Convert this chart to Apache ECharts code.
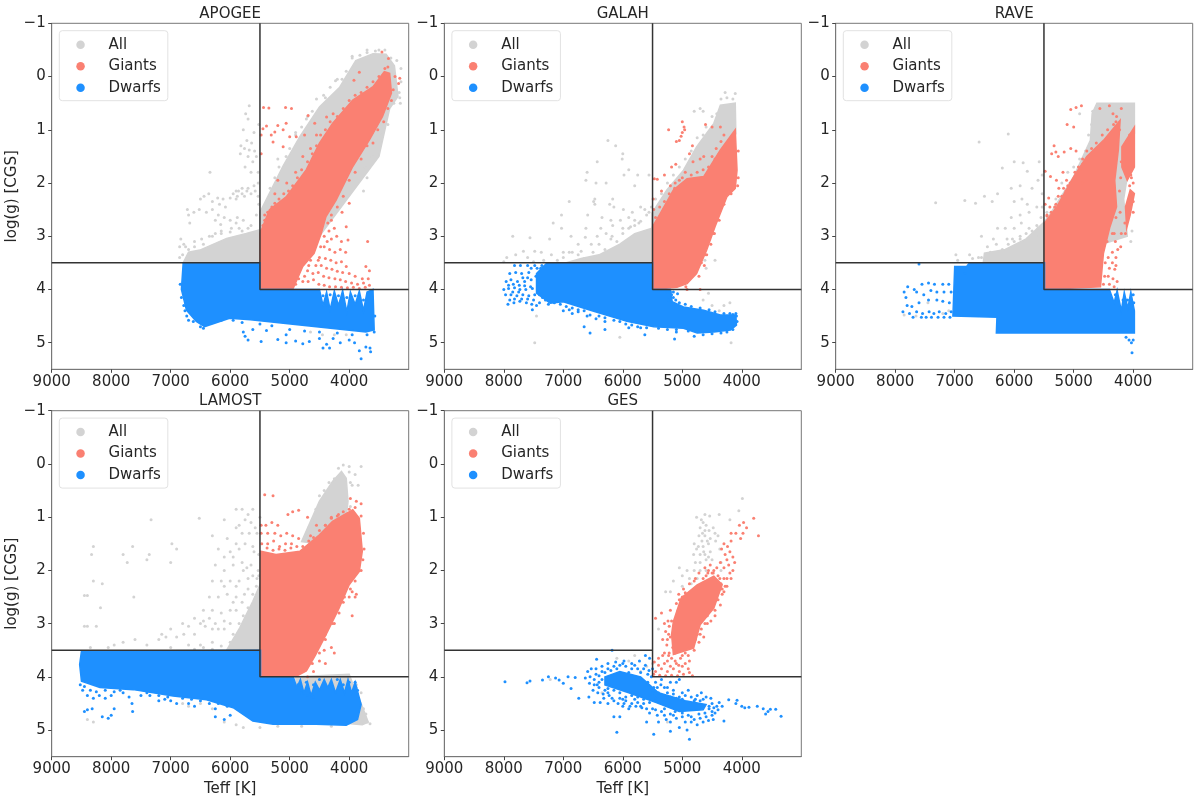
<!Doctype html>
<html>
    <head>
        <meta charset="utf-8">
        <style>
            html, body { margin: 0; background: #fff; }
            #chart { width: 1200px; height: 800px; filter: blur(0.4px); }
        </style>
    </head>
    <body>
        <div id="chart"></div>
        <script src="https://cdn.jsdelivr.net/npm/echarts@6/dist/echarts.min.js"></script>
        <script>
            // Axis ticks and the cuts between giants and dwarfs
            var xTicks = [9000, 8000, 7000, 6000, 5000, 4000];
            var yTicks = [-1, 0, 1, 2, 3, 4, 5];
            var cutLeft = [[9000, 3.5], [5500, 3.5]];
            var cutRight = [[5500, -1], [5500, 4], [3000, 4]];
            var groupNames = ['All', 'Giants', 'Dwarfs'];

            var apogeeAllCloud = [[6790,3.5],[6700,3.3],[6510,3.26],[6060,3.04],[5730,2.95],[5500,2.88],[5500,2.55],[5390,2.3],[5110,1.68],[4830,1.13],[4500,.57],[4160,.2],[3890,-.3],[3600,-.43],[3380,-.42],[3240,-.2],[3180,.37],[3320,.6],[3500,1.5],[4500,3],[5500,3.5]];
            var apogeeGiantCloud = [[5500,4],[5500,2.95],[5340,2.5],[5060,2.26],[4720,1.75],[4500,1.25],[4280,.88],[3940,.44],[3600,.19],[3410,-.09],[3320,-.06],[3290,.31],[3440,.75],[3660,1.19],[3940,1.69],[4220,2.32],[4390,2.63],[4470,2.95],[4590,3.32],[4780,3.57],[4950,4]];
            var apogeeDwarfCloud = [[6790,3.5],[5500,3.5],[5500,4],[4500,4],[4440,4.3],[4380,4.05],[4320,4.38],[4250,4.03],[4180,4.3],[4110,4.02],[4040,4.42],[3980,4.05],[3900,4.28],[3830,4.03],[3760,4.4],[3700,4.05],[3600,4],[3580,4.76],[3720,4.8],[4830,4.67],[5660,4.57],[6010,4.54],[6430,4.7],[6570,4.6],[6735,4.39],[6820,4]];
            var apogeeAllDots = [[5680,.55],[5740,.7],[5700,.8],[5520,.9],[5780,1],[5600,1.05],[5720,1.2],[5640,1.25],[5820,1.3],[5760,1.35],[5680,1.38],[5590,1.4],[5830,1.45],[5700,1.5],[5620,1.6],[5560,1.5],[5750,1.7],[5650,1.8],[5530,1.8],[6340,1.8],[5530,2],[5600,2.05],[5700,2.1],[5800,2.1],[5860,2.15],[5900,2.15],[5950,2.2],[5880,2.25],[5800,2.2],[5720,2.15],[5650,2.2],[5580,2.15],[5530,2.25],[5760,2.25],[5900,2.3],[6000,2.28],[6120,2.3],[6210,2.28],[6360,2.2],[6440,2.25],[6500,2.3],[6300,2.35],[6180,2.4],[6080,2.45],[6610,2.55],[6520,2.5],[6400,2.55],[6300,2.5],[6200,2.6],[6100,2.65],[6000,2.7],[5880,2.65],[5780,2.7],[6720,2.5],[6700,2.6],[6680,2.75],[6250,2.7],[6160,2.78],[5900,2.75],[6830,3.05],[6850,3.2],[6700,3.25],[6600,3.1],[6480,3.05],[6350,3],[6250,2.95],[6150,2.9],[5980,2.85],[5800,2.9],[5650,2.8],[5560,2.6],[5520,2.4],[3740,1.7],[3620,1.5],[3700,1.9],[3760,2.15],[3850,1.8],[3550,1.2],[3450,1.1],[3350,.9],[3250,.5],[3160,.3],[3140,.5],[4850,4.1],[4820,4.2],[5100,4.2],[4250,4.85],[4050,4.85],[4450,4.85],[4650,4.8],[3500,-.5],[3700,-.45],[3950,-.38],[4200,.05],[4400,.4],[4700,.75],[4900,1.1],[5200,1.55]];
            var apogeeAllFringe = [[5330,2.1],[5250,1.9],[5180,1.7],[5060,1.5],[5000,1.35],[4900,1.05],[4800,.95],[4720,.8],[4620,.65],[4550,.42],[4430,.35],[4320,.2],[4230,.08],[4120,.05],[4050,-.1],[3950,-.35],[3820,-.4],[3700,-.5],[3560,-.48],[3400,-.5],[3300,-.35],[3200,-.3],[3130,-.15],[3130,.1],[3150,.4],[6800,3.35],[6750,3.2],[6600,3.2],[6450,3.15],[6300,3],[6150,2.95],[6000,2.92],[5850,2.85],[5700,2.85],[6850,3.4],[6780,3.15]];
            var apogeeGiantDots = [[5440,.58],[5350,.59],[5070,.58],[4970,.6],[5480,1.1],[5450,.98],[5390,.93],[5310,1.1],[5250,1.04],[5200,.92],[5060,.88],[5110,1],[5280,1.23],[5110,1.32],[5000,1.13],[4890,1.13],[4750,1.1],[4690,.73],[4580,.88],[4380,.76],[4270,.7],[3230,0],[3150,.03],[3170,.13],[3340,-.34],[3450,-.46],[3920,.07],[3830,-.08],[5480,1.45],[5200,1.95],[5050,2],[4900,1.8],[4780,1.5],[4650,1.35],[4550,1.1],[5420,2.6],[5450,2.8],[5470,3.2],[5400,3],[5250,2.2],[4000,2.38],[4120,2.55],[4050,2.82],[4020,3.07],[3690,3.1],[4300,2.7],[4340,2.9],[4250,2.85],[4370,3.1],[4300,3.05],[4210,3],[4130,3.1],[4420,3.2],[4330,3.25],[4240,3.3],[4150,3.25],[4060,3.3],[4500,3.4],[4400,3.42],[4310,3.45],[4220,3.5],[4130,3.48],[4050,3.57],[3720,3.57],[3660,3.65],[4650,3.45],[4560,3.55],[4470,3.55],[4380,3.6],[4290,3.62],[4200,3.66],[4110,3.68],[4000,3.7],[3900,3.75],[3780,3.8],[3680,3.8],[4700,3.65],[4610,3.7],[4520,3.68],[4430,3.75],[4340,3.78],[4240,3.8],[4150,3.82],[4060,3.85],[3960,3.88],[3860,3.9],[3760,3.88],[3660,3.92],[4780,3.85],[4690,3.85],[4600,3.82],[4510,3.9],[4420,3.92],[4330,3.95],[4230,3.95],[4130,3.96],[4030,3.97],[3930,3.96],[3830,3.98],[3730,3.96]];
            var apogeeGiantFringe = [[5480,2.9],[5420,2.7],[5370,2.55],[5300,2.45],[5250,2.38],[5180,2.3],[5100,2.2],[5020,2.15],[4950,2.05],[4870,1.9],[4800,1.75],[4700,1.6],[4620,1.45],[4550,1.3],[4480,1.1],[4400,1],[4320,.85],[4200,.75],[4100,.6],[4000,.45],[3900,.35],[3800,.3],[3700,.2],[3600,.1],[3500,0],[3400,-.15],[3350,-.18],[3260,.25],[3290,.45],[3350,.6],[3420,.85],[3520,1],[3600,1.25],[3700,1.3],[3800,1.55],[3900,1.8],[4000,1.95],[4100,2.25],[4200,2.45],[4300,2.6],[4360,2.75],[4420,3],[4480,3.2],[4520,3.45],[4680,3.55],[4750,3.75],[4850,3.8],[4900,3.9]];
            var apogeeDwarfDots = [[5780,4.8],[5700,4.95],[5750,4.88],[5620,4.75],[5480,4.98],[5390,4.77],[5200,4.94],[5060,4.85],[5060,5],[4900,4.97],[4780,5.02],[4670,4.98],[4500,4.92],[4440,5.1],[4330,5.1],[4270,4.92],[4150,5],[3910,5],[3830,5.15],[3720,5.08],[3640,5.17],[3800,5.3],[3650,5.1],[6760,4.4],[6730,4.5],[6700,4.58],[6620,4.6],[6780,4.3],[4000,4.95],[4380,5.03],[6820,4.15],[6840,3.9],[6500,4.7],[6450,4.73],[6300,4.62],[6150,4.58],[5950,4.58],[5800,4.62],[5500,4.65],[5300,4.68],[5000,4.75],[4750,4.78],[4500,4.8],[4200,4.82],[3950,4.85],[3700,4.85],[3580,4.8],[3570,4.5],[4440,4.12],[4380,4.3],[4320,4.1],[4180,4.12],[4040,4.15],[3900,4.12],[3760,4.2],[4250,4.25]];

            var galahAllCloud = [[6950,3.5],[6700,3.42],[6400,3.35],[6050,3.15],[5800,2.95],[5510,2.85],[5510,2.57],[5260,2.13],[4980,1.76],[4760,1.32],[4470,.88],[4360,.54],[4110,.5],[4100,1.07],[4400,2],[5500,3.5]];
            var galahGiantCloud = [[5500,4],[5500,2.82],[5370,2.57],[5150,2.13],[4920,1.92],[4640,1.88],[4360,1.38],[4110,1],[4080,1.76],[4110,2.1],[4250,2.26],[4360,2.57],[4450,2.82],[4590,3.26],[4760,3.7],[4920,3.89],[5090,3.96]];
            var galahDwarfCloud = [[7280,3.51],[5500,3.5],[5500,4],[5200,4],[5170,4.23],[4980,4.33],[4640,4.39],[4360,4.48],[4100,4.48],[4090,4.67],[4190,4.76],[4470,4.8],[4750,4.82],[4980,4.73],[5480,4.7],[5930,4.6],[6490,4.41],[7000,4.23],[7220,4.26],[7450,4.07],[7450,3.7]];
            var galahAllDots = [[6250,1.2],[6120,1.3],[6000,1.45],[6430,1.6],[6600,1.8],[6620,1.95],[6450,2],[6280,2],[6010,1.55],[5900,1.75],[5980,1.85],[5750,1.85],[5560,1.85],[5800,2.05],[6170,2.3],[6220,2.4],[6150,2.45],[6470,2.3],[6900,2.35],[6490,2.35],[6470,2.4],[5990,2.5],[5840,2.55],[5700,2.45],[5630,2.5],[5560,2.55],[7030,2.6],[6590,2.6],[6350,2.65],[6200,2.7],[6040,2.7],[5900,2.65],[5800,2.7],[7170,2.75],[7030,2.85],[6620,2.85],[6370,2.85],[6170,2.8],[6000,2.85],[5870,2.82],[5730,2.75],[7850,3],[7560,3.03],[7230,3.05],[6870,3],[6630,3.02],[6430,3],[6280,2.95],[6180,3],[6750,3.15],[7670,3.28],[7480,3.28],[7370,3.3],[7200,3.35],[7000,3.3],[6850,3.3],[6700,3.28],[6530,3.15],[7950,3.4],[7800,3.35],[7600,3.4],[7330,3.45],[7100,3.45],[8000,3.48],[7500,3.48],[7480,5],[4180,5],[6050,4.9],[4380,4.4],[4500,4.3],[4300,4.3],[4200,4.25],[4560,4.07],[4650,4.2],[7450,4.5],[5100,3.9],[4620,3.45],[4450,3.45],[4600,3.6]];
            var galahAllFringe = [[7000,3.4],[6900,3.3],[6750,3.35],[6650,3.42],[6500,3.3],[6400,3.15],[6300,3.25],[6200,3.05],[6100,3.1],[6000,2.95],[5900,2.85],[5800,2.8],[5700,2.72],[5600,2.6],[5520,2.45],[5450,2.3],[5350,2.2],[5250,2],[5150,1.85],[5050,1.7],[4950,1.55],[4850,1.4],[4750,1.15],[4650,1.1],[4600,.95],[4500,.75],[4420,.7],[4350,.42],[4250,.4],[4150,.42],[4280,.3],[4110,.32],[4700,.6],[4800,.65],[4650,.65]];
            var galahGiantDots = [[5000,.85],[4970,.95],[4960,1],[5000,1.05],[5020,1.12],[5050,1.2],[5100,1.22],[4610,.9],[4500,.95],[4360,.95],[5230,1],[5110,1.65],[5180,1.7],[5300,1.85],[5470,1.92],[5420,1.93],[5490,2.3],[5480,2.5],[5350,2.15],[5200,2.05],[5120,2],[5000,1.9],[4880,1.45],[4830,1.3],[4820,1.6],[4700,1.55],[4640,1.5],[4500,1.5],[4430,1.35],[4350,1.22],[4300,1.1],[4520,3.15],[4590,3.35],[4480,2.95],[4630,3.55],[4940,3.95],[4700,4],[4920,4]];
            var galahGiantFringe = [[5450,2.65],[5380,2.45],[5300,2.35],[5220,2.2],[5130,2.1],[5050,1.95],[4950,1.8],[4850,1.85],[4750,1.8],[4650,1.75],[4560,1.7],[4450,1.55],[4380,1.45],[4280,1.3],[4200,1.2],[4060,1.4],[4060,1.9],[4070,2.05],[4180,2.2],[4300,2.4],[4380,2.7],[4460,2.95],[4540,3.05],[4620,3.35],[4680,3.5],[4720,3.75]];
            var galahDwarfDots = [[7820,3.55],[7720,3.55],[7600,3.55],[7480,3.55],[7380,3.6],[7250,3.56],[7900,3.7],[7800,3.68],[7700,3.7],[7580,3.68],[7460,3.75],[7960,3.85],[7880,3.82],[7770,3.85],[7650,3.85],[7540,3.82],[8000,4],[7920,3.98],[7820,3.97],[7730,4],[7630,4],[7520,3.98],[7970,4.1],[7880,4.1],[7780,4.12],[7680,4.1],[7580,4.12],[7480,4.1],[7930,4.28],[7830,4.25],[7730,4.22],[7620,4.25],[7530,4.28],[7450,4.3],[7400,4.25],[7520,4.38],[7000,4.4],[6900,4.38],[6750,4.42],[6850,4.45],[6600,4.5],[6450,4.55],[6300,4.6],[6650,4.7],[6550,4.82],[6300,4.75],[5630,4.85],[5130,4.93],[5100,4.8],[5200,4.05],[5080,4.08],[5110,4.2],[5230,4.2],[5750,4.7],[5900,4.72],[4100,4.45],[4150,4.47]];
            var galahDwarfFringe = [[7440,3.6],[7420,3.9],[7400,4.1],[7350,4.15],[7300,4.2],[7250,4.28],[7150,4.25],[7050,4.28],[6950,4.32],[6850,4.35],[6750,4.38],[6650,4.4],[6550,4.48],[6400,4.5],[6300,4.53],[6150,4.58],[6050,4.6],[5950,4.65],[5850,4.67],[5700,4.72],[5600,4.72],[5400,4.73],[5250,4.75],[5100,4.75],[4900,4.78],[4800,4.88],[4650,4.85],[4500,4.83],[4350,4.82],[4250,4.8],[4150,4.75],[4080,4.6],[4090,4.5],[4200,4.45],[4300,4.45],[4450,4.42],[4550,4.38],[4700,4.35],[4850,4.32],[4950,4.28],[5050,4.25],[5150,4.15],[5250,4.05],[5150,4.05],[5180,4.1],[7920,3.92],[7840,3.9],[7740,3.92],[7680,3.78],[7600,3.78],[7540,3.6],[7360,3.55],[7160,3.55],[7050,3.55],[6950,3.55],[6800,3.52],[6650,3.52],[7900,4.2],[7820,4.18],[7700,4.18],[7600,4.18],[7500,4.2],[7850,4.05],[7750,4.05],[7650,3.93],[7550,3.95]];

            var raveAllCloud = [[6520,3.5],[6500,3.32],[6150,3.25],[5800,3.05],[5510,2.75],[5390,2.57],[5000,1.88],[4720,1.2],[4690,.7],[4610,.5],[3980,.5],[3980,1.07],[4160,2.3],[4100,3],[5500,3.5]];
            var raveGiantCloud = [[5490,4],[5490,2.75],[5280,2.44],[5000,1.88],[4780,1.5],[4500,1.2],[4220,.82],[4250,1.38],[4310,1.95],[4280,2.45],[4390,2.82],[4500,3.32],[4550,3.95]];
            var raveGiantStreakTop = [[3980,.95],[3980,1.7],[4100,1.95],[4190,1.7],[4190,1.32]];
            var raveGiantStreakLow = [[4050,2.13],[3980,2.2],[4050,2.6],[4110,2.85],[4130,2.45]];
            var raveDwarfCloud = [[5490,3.5],[6750,3.5],[6800,3.57],[7000,3.57],[7030,4.5],[6290,4.52],[6300,4.82],[3980,4.82],[3980,4.4],[4040,4.05],[4090,4.35],[4150,4.05],[4200,4.4],[4270,4.02],[4320,4.25],[4400,4],[5490,4]];
            var raveAllDots = [[6100,1.08],[6590,1.23],[7320,2.37],[6830,2.33],[6650,2.38],[6500,2.25],[6370,2.35],[6280,2.2],[6200,1.72],[6000,1.6],[5850,1.62],[5580,1.6],[5780,1.78],[5530,1.85],[6050,2.1],[5900,2.05],[5700,2.1],[5600,1.95],[5530,2.2],[6000,2.35],[5870,2.3],[5780,2.4],[5530,2.45],[6050,2.65],[5900,2.6],[5750,2.55],[5620,2.45],[6280,2.85],[6150,2.85],[6000,2.85],[5880,2.75],[5750,2.85],[5620,2.8],[5550,2.65],[6550,3],[6350,3.05],[6120,3.05],[6030,3.05],[5900,3.05],[6980,3.35],[6950,3.45],[6750,3.35],[6700,3.42],[6600,3.4],[7450,4.25],[7200,4.45],[7100,4.4],[7850,4.48],[7650,4.5],[4020,2.9],[4040,3.1],[5580,3],[5520,3.2]];
            var raveAllFringe = [[5450,2.55],[5300,2.3],[5200,2],[5100,1.8],[5000,1.7],[4900,1.55],[4800,1.4],[4750,1.1],[4700,.9],[4680,.65],[4900,.7],[6450,3.2],[6300,3.15],[6200,3.25],[6100,3.15],[6000,3.1],[5900,3],[5800,2.95],[5700,2.9],[5600,2.85],[6400,3.3],[6550,3.4]];
            var raveGiantDots = [[4870,.55],[4960,.58],[5050,.62],[4400,.55],[4560,.6],[4200,.6],[4340,.7],[4280,.75],[5110,.9],[5000,.95],[5330,1.3],[5300,1.42],[5260,1.5],[5370,1.45],[5160,1.42],[5050,1.35],[4960,1.4],[5480,1.78],[5390,1.88],[5290,1.95],[5180,1.8],[5120,1.95],[5100,2.05],[5170,2.1],[5250,2.1],[5420,2.28],[5480,2.4],[5400,2.45],[5300,2.4],[5450,2.62],[4900,1.75],[4850,2],[4850,1.65],[4320,2.95],[4300,3.1],[4260,3.25],[4210,3.2],[4350,3.3],[4290,3.4],[4420,3.4],[4350,3.5],[4290,3.55],[4400,3.6],[4310,3.62],[4420,3.75],[4340,3.8],[4270,3.85],[4400,3.9],[4320,3.95],[4200,2.95],[4130,2.95],[4140,2.75],[4030,1.9],[4060,2.05]];
            var raveGiantFringe = [[5450,2.6],[5380,2.55],[5320,2.45],[5260,2.25],[5200,2.25],[5130,2.15],[5060,2],[4980,1.8],[4920,1.7],[4850,1.55],[4780,1.4],[4700,1.35],[4620,1.25],[4520,1.1],[4430,1],[4330,.9],[4290,.85],[4230,1],[4200,1.6],[4210,1.9],[4230,2.15],[4220,2.55],[4290,2.65],[4350,2.95],[4440,3.1],[4470,3.5],[4480,3.75],[4500,3.9],[4100,1.2],[4060,1.1],[4110,1.7],[4040,1.85],[4000,2],[4020,2.25],[4000,2.35],[4000,2.55]];
            var raveDwarfDots = [[7600,3.52],[6830,3.7],[7850,4.05],[7790,3.95],[7820,4.15],[7680,4],[7550,3.9],[7440,3.88],[7340,3.9],[7200,3.9],[7100,3.9],[7640,4.05],[7520,4.1],[7400,4.02],[7300,4.05],[7180,4.05],[7060,4.05],[7440,4.2],[7300,4.2],[7200,4.22],[7090,4.25],[7800,4.3],[7720,4.32],[7600,4.25],[7870,4.42],[7760,4.45],[7640,4.42],[7540,4.45],[7430,4.42],[7350,4.45],[7260,4.42],[7150,4.45],[7060,4.42],[7700,4.52],[7560,4.52],[7480,4.52],[7390,4.52],[7280,4.52],[7180,4.52],[7080,4.52],[4020,5.19],[4030,5],[4070,4.95],[4120,4.9],[4000,4.95],[4100,4.2],[4170,4.2],[4300,4.1],[4000,4.1],[3990,4.25],[4060,4.2]];

            var lamostAllCloud = [[6060,3.5],[5840,3.08],[5620,2.58],[5500,2.27],[5490,3.5]];
            var lamostAllArm = [[4800,1.46],[4500,.7],[4280,.33],[4130,.14],[4050,.27],[4020,.7],[4060,1.1],[4500,1.5]];
            var lamostAllLower = [[4900,4],[4000,3.95],[3950,4.1],[3800,4.5],[3680,4.85],[3780,4.9],[4800,4.8]];
            var lamostGiantCloud = [[5490,3.99],[5490,1.64],[5230,1.7],[4830,1.64],[4500,1.33],[4280,1.08],[3940,.86],[3830,1.02],[3780,1.64],[3830,2.02],[4000,2.27],[4170,2.71],[4360,3.14],[4560,3.58],[4720,3.89],[4890,3.99]];
            var lamostDwarfCloud = [[8500,3.52],[5490,3.5],[5490,4],[4940,4],[4880,4.2],[4820,4.05],[4760,4.3],[4700,4.1],[4640,4.35],[4570,4.1],[4500,4.25],[4420,4.05],[4360,4.2],[4300,4.05],[4230,4.3],[4150,4.05],[4080,4.3],[4020,4.05],[3960,4.3],[3900,4.1],[3800,4.52],[3860,4.8],[4050,4.91],[4560,4.89],[5280,4.89],[5620,4.83],[5950,4.58],[6400,4.43],[6960,4.36],[7630,4.24],[8190,4.2],[8500,4.08],[8530,3.77]];
            var lamostAllDots = [[7330,1.05],[6520,1.02],[7640,1.55],[7800,1.7],[7730,1.85],[7400,1.8],[7360,1.7],[7000,1.85],[8300,1.55],[8330,1.7],[6980,1.5],[6900,1.6],[6300,1.35],[6100,1.05],[5900,.85],[5800,.85],[5620,.85],[5700,.95],[5500,1],[5900,1.2],[6050,1.4],[5800,1.3],[5650,1.1],[5550,1.3],[6200,1.6],[6000,1.65],[5850,1.6],[5750,1.5],[5620,1.55],[5520,1.7],[6250,1.9],[6100,2],[5950,1.9],[5800,1.85],[5650,1.9],[5530,2],[6300,2.2],[6150,2.2],[6000,2.2],[5850,2.2],[5700,2.15],[6350,2.5],[6200,2.5],[6050,2.45],[5900,2.5],[5760,2.45],[6450,2.75],[6300,2.75],[6150,2.8],[6000,2.75],[5900,2.75],[7620,2.5],[8400,2.47],[8450,2.47],[8300,2.2],[8150,2.25],[8180,2.7],[8250,3.05],[8450,3.05],[8400,3.05],[6900,3.25],[6780,3.2],[6600,3.2],[6500,3],[6420,3.05],[6300,3.1],[6200,3.1],[6100,3.1],[7200,3.3],[7150,3.2],[7080,3.25],[7600,3.3],[7800,3.35],[7950,3.4],[8050,3.45],[8350,3.45],[6700,3.4],[6500,3.4],[6300,3.35],[7400,3.4],[7000,3.45],[3800,.05],[4000,.05],[3900,.2],[3850,.4],[3950,.4],[3980,.8],[3700,4.85],[3650,4.88],[3720,4.7],[3760,4.6],[3800,4.3],[3880,4.15],[8400,4.8],[8300,4.85],[6800,4.5],[6700,4.55],[6500,4.5],[6300,4.6],[6100,4.85],[5900,4.9],[5780,4.95],[5500,4.95],[5200,4.93],[4800,4.93],[4300,4.93],[4750,4.4],[4650,4.45],[4500,4.4],[3880,4.2]];
            var lamostAllFringe = [[6000,3.35],[6150,3.42],[5950,3.2],[5850,3],[5780,2.85],[5700,2.7],[5620,2.45],[5560,2.3],[5520,2.1],[6300,3.48],[6450,3.45],[6600,3.48],[4680,1.2],[4620,1.05],[4560,.85],[4500,.6],[4420,.5],[4340,.35],[4250,.28],[4180,.08],[4100,.02],[4000,.15],[3980,.35],[7000,3.1],[6800,3],[6700,3.05],[6600,2.9],[6450,2.95],[6350,2.9],[6250,3],[6100,2.95],[6000,3],[5950,2.6],[6100,2.3],[5900,2.3],[5780,2],[5950,1.75],[6100,1.75],[5900,1.5],[5680,1.3],[5850,1.15],[5750,1.05],[5580,1.2],[5600,1.65],[5720,1.95],[5620,2.1],[5550,2.15],[5800,2.6],[5700,2.35]];
            var lamostGiantDots = [[5420,.58],[5280,.6],[5030,.95],[4950,.9],[4850,.87],[4700,1],[5480,1.15],[5400,1.15],[5300,1.1],[5200,1.15],[5480,1.3],[5370,1.3],[5250,1.3],[5150,1.35],[5050,1.3],[4950,1.35],[4850,1.4],[5470,1.5],[5370,1.5],[5270,1.45],[5170,1.55],[5070,1.5],[4970,1.5],[4650,1.35],[4550,1.15],[4400,1.15],[4300,1],[4180,.95],[4100,1],[3980,.65],[3880,.7],[3800,.75],[5450,1.8],[5400,1.95],[5450,2.05],[5400,2.2],[5350,2.15],[5450,2.35],[5400,2.5],[5350,2.35],[3950,2.4],[3880,2.45],[3900,2.5],[4000,2.5],[3950,2.85],[4100,2.6],[4250,3],[4400,3.2],[4300,3.45],[4250,3.55],[4420,3.5],[4500,3.7],[4600,3.9],[4700,4],[4400,3.75]];
            var lamostGiantFringe = [[5380,1.58],[5280,1.62],[5180,1.6],[5080,1.62],[4980,1.58],[4880,1.55],[4780,1.55],[4680,1.45],[4600,1.38],[4500,1.25],[4400,1.15],[4300,1.02],[4200,.98],[4100,.9],[4000,.85],[3900,.82],[3800,.98],[3760,1.3],[3750,1.6],[3770,1.8],[3800,2],[3900,2.2],[3980,2.35],[4080,2.5],[4170,2.8],[4280,3],[4400,3.3],[4500,3.55],[4620,3.75]];
            var lamostDwarfDots = [[8480,4.25],[8400,4.35],[8300,4.4],[8200,4.35],[8100,4.4],[8000,4.35],[8450,4.65],[8400,4.62],[8320,4.6],[8000,4.72],[8050,4.78],[8150,4.75],[7950,4.6],[7650,4.5],[7640,4.65],[7800,4.3],[7700,4.38],[7500,4.35],[7350,4.35],[7200,4.45],[7100,4.42],[7000,4.45],[6900,4.5],[6700,4.5],[6600,4.55],[6350,4.5],[6250,4.6],[6250,4.75],[6100,4.8],[6000,4.72],[4800,4.3],[4700,4.35],[4600,4.38],[4860,4.15],[4720,4.1],[4600,4.15],[4500,4.05],[4200,4.05],[4100,4.15],[4000,4.1],[3900,4.1],[3860,4.25],[8520,4.15],[8450,4.18],[8350,4.25],[8250,4.28],[8100,4.25],[7950,4.28],[7850,4.25],[7400,4.3],[7200,4.35],[7050,4.38],[6800,4.4],[6650,4.42],[6500,4.45],[6200,4.5],[6050,4.55]];

            var gesGiantCloud = [[5020,2.52],[4750,2.27],[4470,2.11],[4330,2.27],[4470,2.71],[4700,3.02],[4810,3.46],[5150,3.58],[5180,3.2],[5150,2.96]];
            var gesDwarfCloud = [[6300,4],[6050,3.9],[5700,4],[5400,4.3],[4950,4.45],[4600,4.52],[4650,4.62],[5050,4.65],[5450,4.48],[5900,4.3],[6300,4.15]];
            var gesAllDots = [[3990,.65],[4050,.88],[4620,.95],[4760,1],[4540,.98],[4380,.95],[4200,1.05],[4650,1.1],[4700,1.2],[4620,1.25],[4550,1.25],[4480,1.2],[4450,1.3],[4620,1.35],[4720,1.35],[4530,1.4],[4400,1.35],[4670,1.45],[4800,1.5],[4760,1.6],[4650,1.55],[4560,1.5],[4440,1.45],[4810,1.7],[4700,1.7],[4620,1.7],[4530,1.65],[4370,1.6],[4780,1.85],[4700,1.85],[4600,1.8],[4500,1.8],[4350,1.85],[5050,1.95],[4920,2],[4800,2],[4700,2],[4600,2],[4350,2],[5000,2.1],[4880,2.15],[4750,2.15],[5150,2.2],[5000,2.3],[4850,2.25],[5200,2.4],[5280,2.4],[5400,3.1],[5500,3.75],[5700,3.9],[5800,3.6],[5900,3.7],[6100,3.65],[6350,4.3],[7220,4.05],[5250,4.85],[5350,4.5],[5600,3.8],[4680,1.05],[4600,1.15],[4660,1.3],[4580,1.45],[4730,1.55],[4640,1.65],[4560,1.75]];
            var gesGiantDots = [[3800,1.02],[3970,1.1],[4040,1.15],[3920,1.2],[3980,1.3],[4100,1.3],[4180,1.3],[3720,1.35],[4020,1.4],[4180,1.45],[4300,1.5],[4240,1.55],[4340,1.6],[4200,1.65],[4280,1.7],[4150,1.75],[4250,1.8],[4360,1.85],[4220,1.9],[4300,1.95],[4150,2],[4420,1.95],[4530,1.9],[4620,1.95],[4470,2],[4720,2.05],[4570,2.05],[4400,2.1],[4300,2.15],[4180,2.15],[4650,2.15],[4800,2.2],[4250,2.3],[4330,2.45],[4400,2.55],[5000,2.5],[5050,2.55],[4950,2.42],[5070,2.75],[5200,2.75],[5350,2.8],[5450,2.9],[5300,3],[5240,2.95],[5280,3.15],[5330,3.3],[5260,3.4],[5220,3.55],[5400,3.65],[5250,3.7],[5120,3.7],[5030,3.65],[4950,3.55],[4800,3.5],[4750,3.2],[4680,3.1],[4580,2.85],[4520,2.95],[5400,3.78],[5470,3.72],[5450,3.9],[5350,3.85],[5250,3.9],[5150,3.85],[5050,3.9],[4950,3.75],[4880,3.92],[5480,3.95],[5380,3.97],[5280,3.98],[5180,3.97],[5080,3.98],[4980,3.95],[4830,3.98],[5050,3.45],[5100,3.2],[4920,3.3],[4850,2.95],[4700,2.9],[4600,2.6],[5180,2.95],[5220,3.05],[5200,3.25],[5160,3.45],[5300,3.55],[5180,3.65],[5060,3.78],[4880,3.7],[5100,2.62],[5060,2.45],[4980,2.35],[4880,2.25],[4780,2.15],[4600,2.1],[4500,2.05],[4370,2.15],[4280,2.3],[4330,2.35],[4360,2.65],[4450,2.85],[4580,3],[4640,3.25],[4720,3.35]];
            var gesGiantExtra = [[5000,3.6],[4900,3.6],[4880,3.45],[5230,3.6],[5120,3.55],[5330,3.6],[5200,3.8],[5100,3.75],[5000,3.8],[4900,3.85],[5300,3.75],[5150,3.3],[5230,3.2],[5250,3.3],[4780,3.3],[4700,3.2],[4620,3],[4550,2.75],[4450,2.75],[4400,2.4],[4300,2.4],[4250,2.15],[4350,2.25],[4200,2.05],[4120,1.85],[4480,2.05],[4560,2]];
            var gesDwarfDots = [[7980,4.09],[7610,4.11],[7560,4.08],[7350,4.06],[7250,4],[7130,4.02],[7070,4.06],[7000,4.12],[6920,4],[6800,4.01],[6870,4.22],[6740,4.4],[6630,4.02],[6590,3.9],[6570,4.38],[6480,4.48],[6180,3.5],[6440,3.67],[6530,3.85],[6450,3.85],[6350,3.8],[6250,3.75],[6120,3.72],[5980,3.7],[5850,3.75],[5720,3.7],[5620,3.6],[5550,3.65],[6560,4.12],[6480,4.05],[6400,4.1],[6300,4.25],[6500,4.25],[6420,4.3],[6320,4.4],[6230,4.35],[6150,4.45],[6050,4.4],[5950,4.45],[5850,4.5],[5750,4.48],[6380,4.48],[6250,4.5],[6000,4.55],[6150,4.75],[6050,4.75],[5500,3.85],[5450,4.1],[5350,4.05],[5200,4.1],[5100,4.1],[5050,4.05],[5250,4.2],[5150,4.25],[5000,4.3],[4900,4.25],[4750,4.35],[4680,4.3],[4600,4.38],[4520,4.4],[4470,4.58],[4330,4.55],[4220,4.43],[4080,4.44],[4000,4.55],[3880,4.57],[3740,4.55],[3600,4.7],[3520,4.61],[3430,4.61],[3340,4.74],[3640,4.6],[3560,4.65],[3950,4.58],[4100,4.5],[4300,4.83],[4500,4.72],[4480,4.8],[4600,4.75],[4650,4.85],[4750,4.9],[4850,4.85],[4950,4.85],[5050,4.95],[5200,4.85],[5270,4.8],[5000,4.75],[5150,4.72],[5420,4.72],[5400,4.85],[6100,5.04],[5480,5.08],[5200,5.02],[4880,5.17],[4920,5],[5600,4.85],[5700,4.55],[5600,4.6],[5900,4.6],[6350,3.9],[6250,3.85],[6150,3.8],[6050,3.78],[5950,3.8],[5850,3.85],[5750,3.85],[5650,3.85],[5580,3.95],[5520,4],[5580,4.1],[5480,4.2],[5400,4.3],[5300,4.35],[5200,4.38],[5100,4.4],[5000,4.42],[4800,4.45],[4700,4.45],[4550,4.6],[4620,4.68],[4720,4.7],[4850,4.75],[5120,4.65],[5300,4.6],[5500,4.6],[5650,4.5],[5800,4.42],[6000,4.42],[6250,4.22],[6400,4.2],[6550,4],[6450,3.95],[5550,4.35],[5450,4.4]];
            var gesDwarfExtra = [[6480,4.15],[6400,3.98],[6300,3.92],[6200,3.88],[6100,3.85],[6000,3.75],[5900,3.92],[5800,3.78],[5700,3.92],[5620,3.78],[5560,3.88],[6430,4.15],[6350,4.05],[6250,4.3],[6150,4.25],[6050,4.3],[5950,4.38],[5850,4.35],[5750,4.38],[5650,4.42],[5550,4.48],[6330,4.32],[6180,4.4],[6080,4.5],[5980,4.5],[5880,4.55],[5780,4.55],[5680,4.58],[5500,4.3],[5420,4.2],[5300,4.2],[5360,4.15],[5250,4.3],[5150,4.32],[5050,4.38],[4950,4.35],[4850,4.38],[4780,4.42],[4650,4.42],[4500,4.5],[4420,4.55],[4380,4.48],[4550,4.55],[4500,4.65],[4450,4.68],[4400,4.62],[4560,4.82],[4700,4.78],[4800,4.8],[4900,4.72],[5000,4.68],[5100,4.78],[5200,4.7],[5300,4.72],[5350,4.65],[5450,4.62],[5550,4.68]];

            // Panels: where each sits and what it holds
            var panels = [
                {title: 'APOGEE', left: 51.7, top: 23.3, yName: true, clouds: [[0, apogeeAllCloud], [1, apogeeGiantCloud], [2, apogeeDwarfCloud]], dots: [apogeeAllDots.concat(apogeeAllFringe), apogeeGiantDots.concat(apogeeGiantFringe), apogeeDwarfDots]},
                {title: 'GALAH', left: 444.3, top: 23.3, clouds: [[0, galahAllCloud], [1, galahGiantCloud], [2, galahDwarfCloud]], dots: [galahAllDots.concat(galahAllFringe), galahGiantDots.concat(galahGiantFringe), galahDwarfDots.concat(galahDwarfFringe)]},
                {title: 'RAVE', left: 835.7, top: 23.3, clouds: [[0, raveAllCloud], [1, raveGiantCloud], [1, raveGiantStreakTop], [1, raveGiantStreakLow], [2, raveDwarfCloud]], dots: [raveAllDots.concat(raveAllFringe), raveGiantDots.concat(raveGiantFringe), raveDwarfDots]},
                {title: 'LAMOST', left: 51.7, top: 410.7, yName: true, xName: true, clouds: [[0, lamostAllCloud], [0, lamostAllArm], [0, lamostAllLower], [1, lamostGiantCloud], [2, lamostDwarfCloud]], dots: [lamostAllDots.concat(lamostAllFringe), lamostGiantDots.concat(lamostGiantFringe), lamostDwarfDots]},
                {title: 'GES', left: 444.3, top: 410.7, xName: true, clouds: [[1, gesGiantCloud], [2, gesDwarfCloud]], dots: [gesAllDots, gesGiantDots.concat(gesGiantExtra), gesDwarfDots.concat(gesDwarfExtra)]}
            ];

            var colors = ['#d3d3d3', '#fa8072', '#1e90ff'];
            var fontName = 'DejaVu Sans';
            var textColor = '#262626';
            var spineColor = '#777';
            var panelWidth = 357;
            var panelHeight = 346;

            function minusSign(value) {
                return String(value).replace('-', '\u2212');
            }

            function cloudSeries(group, outline, gridIndex, z) {
                return {
                    name: groupNames[group],
                    type: 'custom',
                    xAxisIndex: gridIndex,
                    yAxisIndex: gridIndex,
                    data: outline,
                    z: z,
                    silent: true,
                    itemStyle: {color: colors[group]},
                    renderItem: function (params, api) {
                        if (params.dataIndex !== 0) {
                            return;
                        }
                        var points = outline.map(function (p) {
                            return api.coord(p);
                        });
                        return {
                            type: 'polygon',
                            shape: {points: points},
                            style: {fill: colors[group], stroke: colors[group], lineWidth: 1.5}
                        };
                    }
                };
            }

            var option = {
                backgroundColor: '#fff',
                animation: false,
                textStyle: {fontFamily: fontName},
                title: [], legend: [], grid: [], xAxis: [], yAxis: [], series: []
            };

            panels.forEach(function (panel, i) {
                option.title.push({
                    text: panel.title,
                    left: panel.left + panelWidth / 2,
                    top: panel.top - 17,
                    textAlign: 'center',
                    padding: 0,
                    textStyle: {fontFamily: fontName, fontSize: 15, fontWeight: 'normal', color: textColor}
                });
                option.legend.push({
                    data: groupNames,
                    icon: 'circle',
                    orient: 'vertical',
                    left: panel.left + 7.6,
                    top: panel.top + 7.4,
                    padding: [6.5, 7, 5.5, 17],
                    itemWidth: 46,
                    itemHeight: 8.5,
                    itemGap: 6.5,
                    backgroundColor: '#fff',
                    borderColor: '#e2e2e2',
                    borderWidth: 1,
                    borderRadius: 3,
                    selectedMode: false,
                    textStyle: {fontFamily: fontName, fontSize: 15, color: textColor}
                });
                option.grid.push({
                    left: panel.left,
                    top: panel.top,
                    width: panelWidth,
                    height: panelHeight,
                    show: true,
                    backgroundColor: '#fff',
                    borderColor: spineColor,
                    borderWidth: 1
                });
                option.xAxis.push({
                    type: 'value',
                    gridIndex: i,
                    inverse: true,
                    min: 3000,
                    max: 9000,
                    interval: 1000,
                    name: panel.xName ? 'Teff [K]' : '',
                    nameLocation: 'middle',
                    nameGap: 25,
                    nameTextStyle: {fontFamily: fontName, fontSize: 15, color: textColor},
                    splitLine: {show: false},
                    axisLine: {onZero: false, lineStyle: {color: spineColor}},
                    axisTick: {customValues: xTicks, length: 3.5, lineStyle: {color: '#444'}},
                    axisLabel: {customValues: xTicks, formatter: String, fontFamily: fontName, fontSize: 15, color: textColor, margin: 5}
                });
                option.yAxis.push({
                    type: 'value',
                    gridIndex: i,
                    inverse: true,
                    min: -1,
                    max: 5.5,
                    interval: 1,
                    name: panel.yName ? 'log(g) [CGS]' : '',
                    nameLocation: 'middle',
                    nameGap: 28,
                    nameTextStyle: {fontFamily: fontName, fontSize: 15, color: textColor},
                    splitLine: {show: false},
                    axisLine: {onZero: false, lineStyle: {color: spineColor}},
                    axisTick: {customValues: yTicks, length: 3.5, lineStyle: {color: '#444'}},
                    axisLabel: {customValues: yTicks, formatter: minusSign, fontFamily: fontName, fontSize: 15, color: textColor, margin: 6}
                });

                // grey goes first, giants and dwarfs sit on top of it
                panel.dots.forEach(function (dots, group) {
                    panel.clouds.forEach(function (cloud) {
                        if (cloud[0] === group) {
                            option.series.push(cloudSeries(group, cloud[1], i, 2 + group));
                        }
                    });
                    option.series.push({
                        name: groupNames[group],
                        type: 'scatter',
                        xAxisIndex: i,
                        yAxisIndex: i,
                        data: dots,
                        z: 2 + group,
                        symbolSize: 3,
                        silent: true,
                        itemStyle: {color: colors[group], opacity: 1}
                    });
                });

                [cutLeft, cutRight].forEach(function (cut) {
                    option.series.push({
                        type: 'line',
                        xAxisIndex: i,
                        yAxisIndex: i,
                        data: cut,
                        z: 6,
                        showSymbol: false,
                        silent: true,
                        lineStyle: {color: '#333', width: 1.5}
                    });
                });
            });

            var chart = echarts.init(document.getElementById('chart'));
            chart.setOption(option);
        </script>
    </body>
</html>
